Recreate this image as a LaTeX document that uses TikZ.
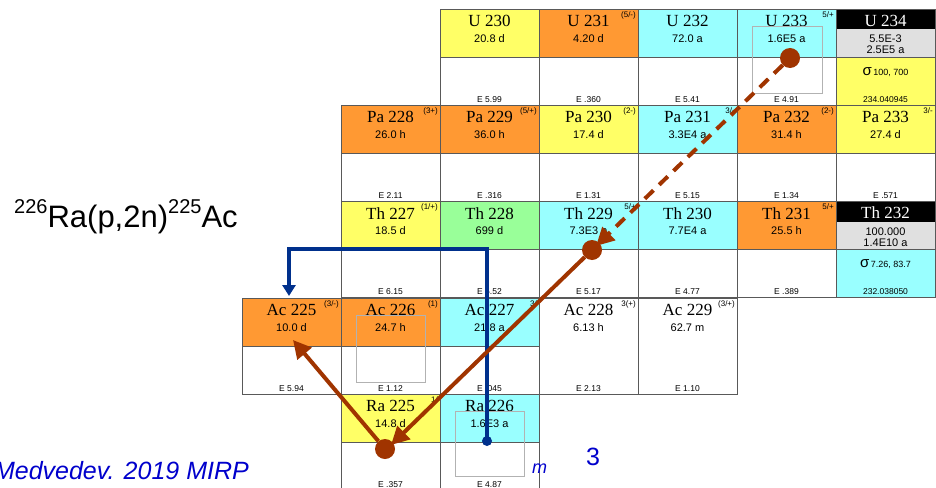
\documentclass[tikz,border=0pt]{standalone}
\usepackage{fontspec}
\setmainfont{Liberation Serif}
\setsansfont{Liberation Sans}
\usetikzlibrary{arrows.meta}
\definecolor{cyel}{RGB}{255,255,102}
\definecolor{corg}{RGB}{255,153,51}
\definecolor{ccya}{RGB}{153,255,255}
\definecolor{cgrn}{RGB}{153,255,153}
\definecolor{cgry}{RGB}{224,224,224}
\definecolor{cbrn}{RGB}{160,52,0}
\definecolor{cnavy}{RGB}{0,48,140}
\definecolor{ctxtblue}{RGB}{0,0,204}
\tikzset{
  cellline/.style={draw=black!65, line width=0.8pt},
  nm/.style={font=\rmfamily\fontsize{17}{17}\selectfont, inner sep=0pt, anchor=base},
  hl/.style={font=\sffamily\fontsize{11}{11}\selectfont, inner sep=0pt, anchor=base},
  sp/.style={font=\sffamily\fontsize{8}{8}\selectfont, inner sep=0pt, anchor=north east},
  en/.style={font=\sffamily\fontsize{8.5}{8.5}\selectfont, inner sep=0pt, anchor=base},
  graybox/.style={draw=black!30, line width=0.8pt},
  brnline/.style={draw=cbrn, line width=4pt},
  brndash/.style={draw=cbrn, line width=4pt, dash pattern=on 12pt off 8pt},
  dotc/.style={circle, fill=cbrn, minimum size=20pt, inner sep=0pt},
  bluedot/.style={circle, fill=cnavy, minimum size=10pt, inner sep=0pt},
  bluepath/.style={draw=cnavy, line width=4pt},
}
\newcommand{\nuctext}[7]{%
  \node[nm] (#1-name) at (#2+49.5,#3+17.5) {#4};
  \node[hl] (#1-hl) at (#2+49.5,#3+33) {#5};
  \node[sp] (#1-spin) at (#2+97,#3+2.5) {#6};
  \node[en] (#1-e) at (#2+49.5,#3+93) {#7};}
\newcommand{\nuc}[8]{%
  \fill[#4] (#2,#3) rectangle ++(99,48);
  \draw[cellline] (#2,#3) rectangle ++(99,96) (#2,#3+48) -- ++(99,0);
  \nuctext{#1}{#2}{#3}{#5}{#6}{#7}{#8}}
\newcommand{\nucw}[7]{%
  \draw[cellline] (#2,#3) rectangle ++(99,96);
  \nuctext{#1}{#2}{#3}{#4}{#5}{#6}{#7}}
\newcommand{\stab}[9]{%
  \fill[black] (#2,#3) rectangle ++(99,20);
  \fill[cgry] (#2,#3+20) rectangle ++(99,28);
  \fill[#7] (#2,#3+48) rectangle ++(99,48);
  \draw[cellline] (#2,#3) rectangle ++(99,96) (#2,#3+48) -- ++(99,0);
  \node[nm, text=white] (#1-name) at (#2+49.5,#3+17) {#4};
  \node[hl] (#1-a) at (#2+49.5,#3+33.5) {#5};
  \node[hl] (#1-b) at (#2+49.5,#3+44.5) {#6};
  \node[inner sep=0pt, anchor=base, font=\sffamily] (#1-s) at (#2+49.5,#3+65.5) {{\fontsize{15}{15}\selectfont σ}\,{\fontsize{9}{9}\selectfont #8}};
  \node[en] (#1-m) at (#2+49.5,#3+93) {#9};}
\begin{document}
\begin{tikzpicture}[x=1pt,y=-1pt]
\useasboundingbox (0,0) rectangle (936,487);
\path[clip] (0,0) rectangle (936,487);
\fill[white] (0,0) rectangle (936,487);
% U row
\nuc{u230}{440}{9.5}{cyel}{U 230}{20.8 d}{}{E 5.99}
\nuc{u231}{539}{9.5}{corg}{U 231}{4.20 d}{(5/-)}{E .360}
\nuc{u232}{638}{9.5}{ccya}{U 232}{72.0 a}{}{E 5.41}
\nuc{u233}{737}{9.5}{ccya}{U 233}{1.6E5 a}{5/+}{E 4.91}
\stab{u234}{836}{9.5}{U 234}{5.5E-3}{2.5E5 a}{cyel}{100, 700}{234.040945}
% Pa row
\nuc{pa228}{341}{105}{corg}{Pa 228}{26.0 h}{(3+)}{E 2.11}
\nuc{pa229}{440}{105}{corg}{Pa 229}{36.0 h}{(5/+)}{E .316}
\nuc{pa230}{539}{105}{cyel}{Pa 230}{17.4 d}{(2-)}{E 1.31}
\nuc{pa231}{638}{105}{ccya}{Pa 231}{3.3E4 a}{3/-}{E 5.15}
\nuc{pa232}{737}{105}{corg}{Pa 232}{31.4 h}{(2-)}{E 1.34}
\nuc{pa233}{836}{105}{cyel}{Pa 233}{27.4 d}{3/-}{E .571}
% Th row
\nuc{th227}{341}{201.5}{cyel}{Th 227}{18.5 d}{(1/+)}{E 6.15}
\nuc{th228}{440}{201.5}{cgrn}{Th 228}{699 d}{}{E 5.52}
\nuc{th229}{539}{201.5}{ccya}{Th 229}{7.3E3 a}{5/+}{E 5.17}
\nuc{th230}{638}{201.5}{ccya}{Th 230}{7.7E4 a}{}{E 4.77}
\nuc{th231}{737}{201.5}{corg}{Th 231}{25.5 h}{5/+}{E .389}
\stab{th232}{836}{201.5}{Th 232}{100.000}{1.4E10 a}{ccya}{7.26, 83.7}{232.038050}
% Ac row
\nuc{ac225}{242}{298}{corg}{Ac 225}{10.0 d}{(3/-)}{E 5.94}
\nuc{ac226}{341}{298}{corg}{Ac 226}{24.7 h}{(1)}{E 1.12}
\nuc{ac227}{440}{298}{ccya}{Ac 227}{21.8 a}{3/}{E .045}
\nucw{ac228}{539}{298}{Ac 228}{6.13 h}{3(+)}{E 2.13}
\nucw{ac229}{638}{298}{Ac 229}{62.7 m}{(3/+)}{E 1.10}
% Ra row
\nuc{ra225}{341}{394}{cyel}{Ra 225}{14.8 d}{1/}{E .357}
\nuc{ra226}{440}{394}{ccya}{Ra 226}{1.6E3 a}{}{E 4.87}
% gray target squares
\draw[graybox] (752,26) rectangle (822,93);
\draw[graybox] (356,315) rectangle (425,382);
\draw[graybox] (455,411) rectangle (524,476);
% texts
\node[inner sep=0pt, anchor=base west, font=\sffamily\fontsize{31}{31}\selectfont] (reac) at (14,227)
  {\raisebox{0.42em}{\fontsize{20}{20}\selectfont 226}Ra(p,2n)\raisebox{0.42em}{\fontsize{20}{20}\selectfont 225}Ac};
\node[inner sep=0pt, anchor=base east, text=ctxtblue, font=\sffamily\itshape\fontsize{25}{25}\selectfont] (ref) at (249,479) {Medvedev. 2019 MIRP};
\node[inner sep=0pt, anchor=base west, text=ctxtblue, font=\sffamily\itshape\fontsize{18}{18}\selectfont] (mm) at (532,473) {m};
\node[inner sep=0pt, anchor=base west, text=ctxtblue, font=\sffamily\fontsize{25}{25}\selectfont] (three) at (586,465) {3};
% blue path
\node[bluedot] (bd) at (487,441) {};
\coordinate (bt1) at (487,249);
\coordinate (bt2) at (289,249);
\coordinate (btip) at (289,296);
\draw[bluepath, -{Triangle[length=11pt,width=13pt]}] (bd.center) -- (bt1) -- (bt2) -- (btip);
% brown arrows
\node[dotc] (c233) at (790,58) {};
\node[dotc] (c229) at (592,250) {};
\node[dotc] (c225) at (385,449) {};
\coordinate (t229) at (596,246);
\coordinate (t225) at (391,445);
\coordinate (tac) at (293,340);
\draw[brndash, -{Triangle[length=18pt,width=18pt]}] (c233) -- (t229);
\draw[brnline, -{Triangle[length=18pt,width=18pt]}] (c229) -- (t225);
\draw[brnline, -{Triangle[length=18pt,width=18pt]}] (c225) -- (tac);
\end{tikzpicture}
\end{document}
